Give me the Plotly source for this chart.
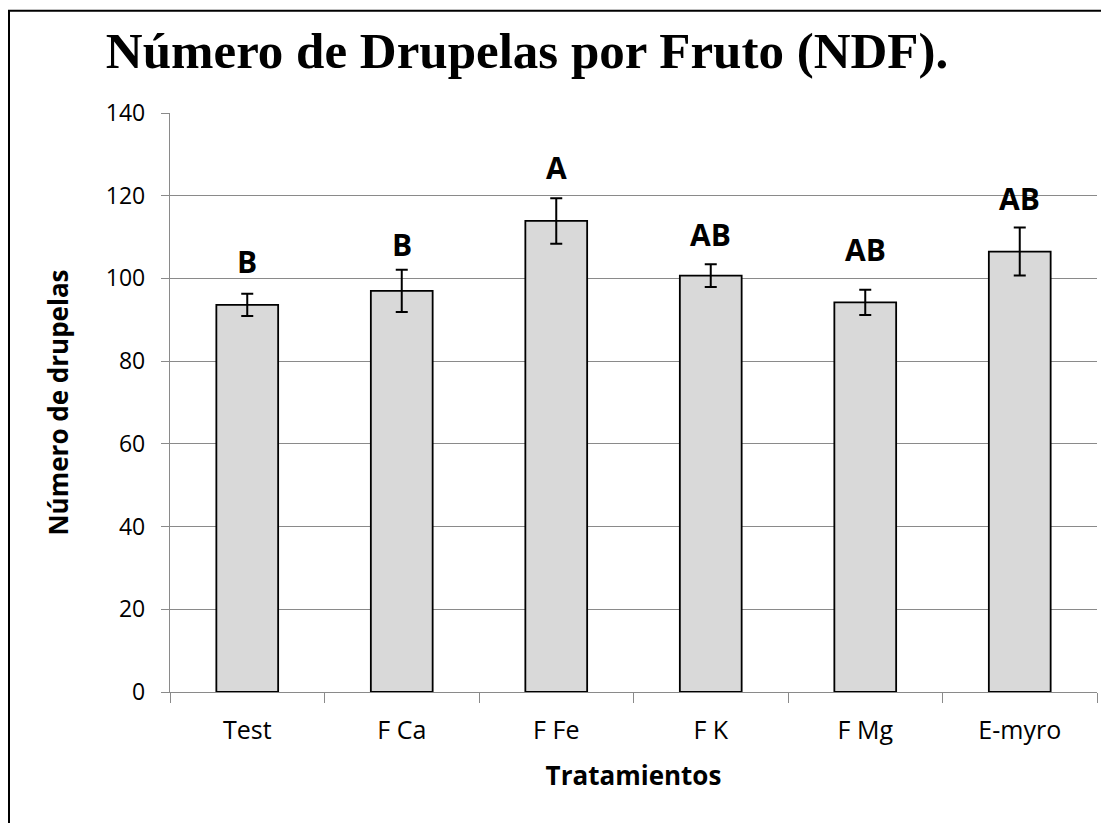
import plotly.graph_objects as go

# ---- data ----
categories = ["Test", "F Ca", "F Fe", "F K", "F Mg", "E-myro"]
means = [93.6, 97.0, 113.9, 100.7, 94.2, 106.5]
errors = [2.7, 5.1, 5.5, 2.75, 3.05, 5.8]
letters = ["B", "B", "A", "AB", "AB", "AB"]
y_ticks = [0, 20, 40, 60, 80, 100, 120, 140]

title_text = "Número de Drupelas por Fruto (NDF)."
x_title = "Tratamientos"
y_title = "Número de drupelas"

# layout config (gap of each letter above its error-bar top, in axis units)
letter_gap = [7.7, 6.2, 7.4, 7.1, 9.8, 7.0]

W, H = 1109, 823
L, R, T, B = 162, 20, 105, 139
GRID = "#8a8a8a"
FONT = "Open Sans"

fig = go.Figure()
fig.add_trace(go.Bar(
    x=categories, y=means, width=0.4,
    marker=dict(color="#d9d9d9", line=dict(color="black", width=1.8)),
    error_y=dict(type="data", array=errors, visible=True,
                 color="black", thickness=2, width=6),
    showlegend=False, hoverinfo="x+y",
))

for c, m, e, lt, g in zip(categories, means, errors, letters, letter_gap):
    fig.add_annotation(x=c, y=m + e + g, xref="x", yref="y", text=lt,
                       showarrow=False, yanchor="middle", xanchor="center",
                       font=dict(family=FONT, size=30, color="black", weight="bold"))

pw = W - L - R
ph = H - T - B
def px_x(p):
    return (p - L) / pw
def px_y(p):
    return (H - B - p) / ph

# outer frame (right & bottom edges lie outside the picture)
fig.add_shape(type="rect", xref="paper", yref="paper",
              x0=px_x(1), x1=px_x(1140), y0=px_y(860), y1=px_y(2.7),
              line=dict(color="black", width=2), fillcolor="rgba(0,0,0,0)", layer="above")

fig.update_layout(
    width=W, height=H, autosize=False,
    margin=dict(l=L, r=R, t=T, b=B, pad=0),
    paper_bgcolor="white", plot_bgcolor="white",
    bargap=0.6,
    title=dict(text=title_text, x=519 / W, xref="container", xanchor="center",
               y=1 - 42 / H, yref="container", yanchor="middle",
               font=dict(family="Liberation Serif", size=51, color="black", weight="bold")),
    font=dict(family=FONT, color="black"),
)

fig.update_xaxes(
    type="category", tickson="boundaries", ticks="outside", ticklen=10,
    tickcolor=GRID, tickwidth=1.3, showline=True, linecolor=GRID, linewidth=1.3,
    showgrid=False, zeroline=False,
    tickfont=dict(family=FONT, size=25, color="black"),
    ticklabelstandoff=16,
    title=dict(text=x_title, standoff=21,
               font=dict(family=FONT, size=26, color="black", weight="bold")),
)
fig.update_yaxes(
    range=[0, 140], tickvals=y_ticks, ticks="outside", ticklen=8,
    tickcolor=GRID, tickwidth=1.3, showline=True, linecolor=GRID, linewidth=1.3,
    showgrid=True, gridcolor=GRID, gridwidth=1.3, zeroline=False,
    tickfont=dict(family=FONT, size=23, color="black"),
    ticklabelstandoff=11,
    title=dict(text=y_title, standoff=29,
               font=dict(family=FONT, size=26, color="black", weight="bold")),
)

fig.write_html("out.html")
